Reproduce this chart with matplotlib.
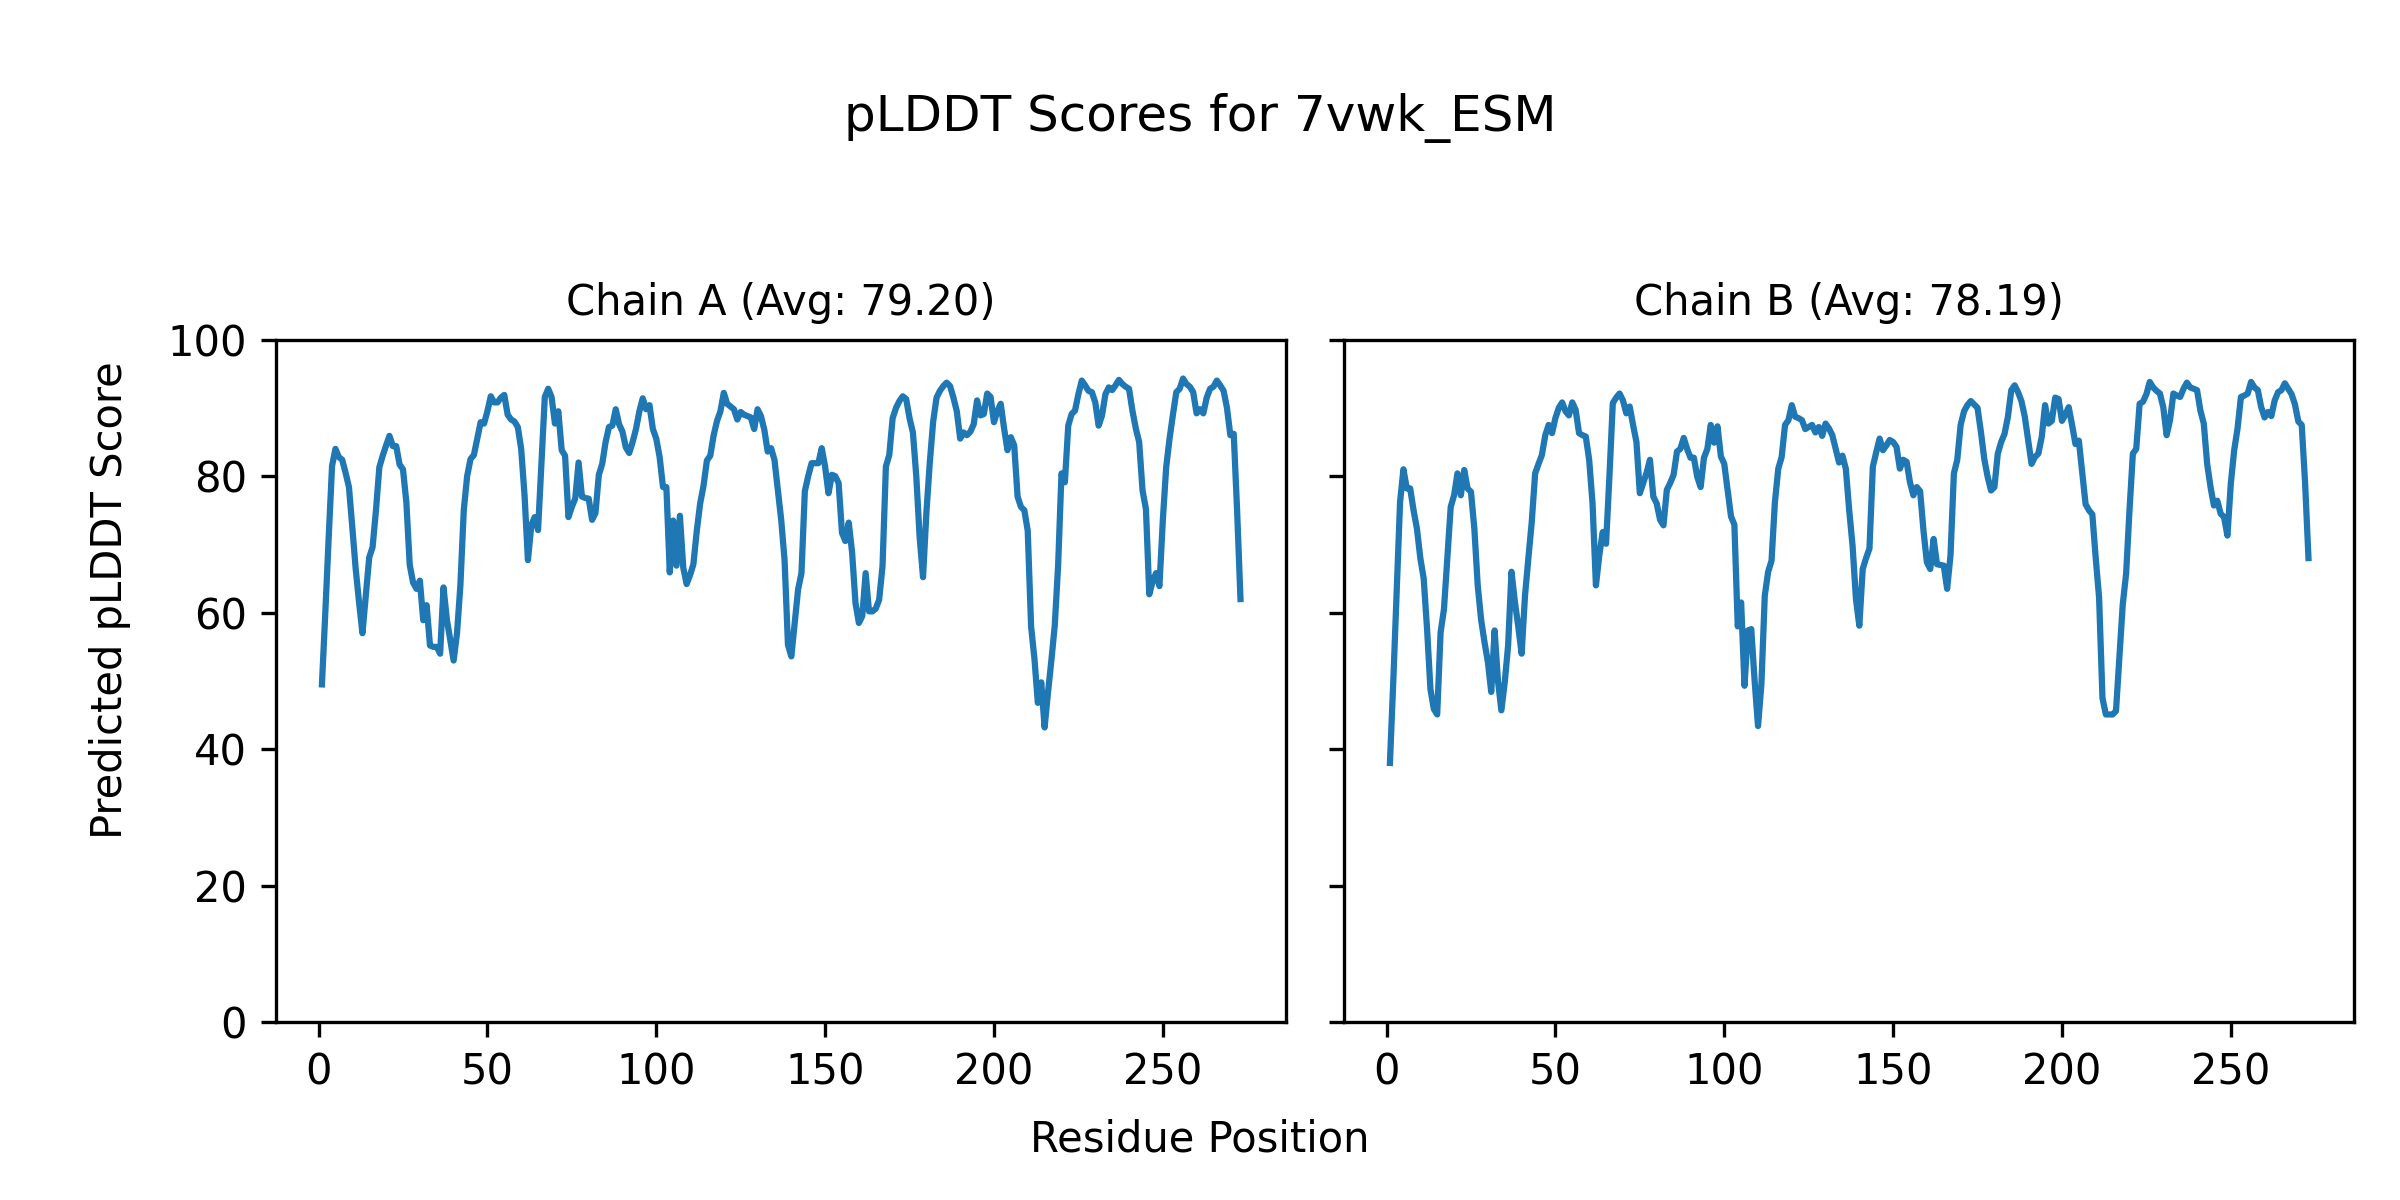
import matplotlib
matplotlib.use("Agg")
import matplotlib.pyplot as plt
import numpy as np

# Figure title / labels
structure_name = "7vwk_ESM"
chain_names = ["A", "B"]
chain_avgs = [79.20, 78.19]

# pLDDT per residue (residues 1..273)
plddt_a = [
	49.5, 60, 71, 81.5, 84, 82.8, 82.4, 80.5, 78.4, 72.5,
	66.4, 61.5, 57, 62.5, 68.1, 69.6, 75, 81.3, 83, 84.5,
	85.9, 84.4, 84.4, 81.7, 81, 76.2, 67, 64.4, 63.5, 64.7,
	58.9, 61.1, 55.2, 55, 55, 54, 63.7, 59, 56, 53,
	57, 64, 75, 80, 82.5, 83.1, 85.5, 87.9, 87.7, 89.5,
	91.7, 90.8, 90.8, 91.5, 91.9, 89, 88.3, 88, 87.2, 84,
	77.2, 67.7, 72.8, 74, 72.1, 82, 91.6, 92.8, 91.6, 87.7,
	89.5, 83.8, 83, 74, 75.5, 76.7, 82, 77, 76.8, 76.7,
	73.6, 74.6, 80.2, 81.8, 85, 87.2, 87.4, 89.8, 87.6, 86.5,
	84.2, 83.4, 85, 86.9, 89.5, 91.4, 89.8, 90.4, 86.9, 85.5,
	82.8, 78.4, 78.4, 65.9, 73.5, 66.9, 74.2, 66.6, 64.2, 65.5,
	67.1, 72, 76, 78.6, 82.3, 83, 86, 88.1, 89.5, 92.2,
	90.6, 90.2, 89.8, 88.3, 89.4, 89, 88.8, 88.6, 86.9, 89.8,
	88.8, 86.8, 83.6, 84.1, 82.4, 78, 73.6, 67.7, 55.3, 53.6,
	58.5, 63.4, 65.8, 77.8, 80, 81.9, 81.9, 81.9, 84.1, 81.4,
	77.5, 80.2, 80, 79, 71.7, 70.5, 73.2, 68.8, 61.4, 58.5,
	59.5, 65.8, 60.2, 60.2, 60.6, 61.9, 66.8, 81.4, 83.1, 88.5,
	90, 91, 91.7, 91.3, 88.5, 86.4, 80, 71, 65.2, 74.7,
	82, 88, 91.5, 92.5, 93.2, 93.7, 93.2, 91.5, 89.5, 85.5,
	86.4, 86, 86.5, 87.6, 91.1, 88.9, 89.1, 92.1, 91.6, 87.9,
	89.5, 90.6, 87, 83.8, 85.7, 84.5, 77, 75.5, 75, 72,
	58, 53.2, 46.8, 49.8, 43.2, 48.3, 53, 58.1, 66.9, 80.4,
	79.1, 87.4, 89.1, 89.6, 92, 94, 93.3, 92.5, 92.3, 90.8,
	87.4, 88.9, 92, 93, 92.6, 93.3, 94.1, 93.5, 93.1, 92.8,
	89.6, 87, 85, 77.9, 75.2, 62.7, 64.6, 65.8, 63.9, 73.5,
	81.3, 85.5, 89, 92.3, 92.8, 94.3, 93.5, 93.1, 92.3, 89.2,
	89.8, 89.2, 91.5, 92.8, 93.1, 94, 93.3, 92.5, 90, 86,
	86.2, 75, 62,
]

plddt_b = [
	38, 50, 63, 76.2, 81, 78.2, 78.2, 75, 72.3, 68,
	65, 57.6, 48.8, 45.9, 45.1, 57.1, 60.5, 68, 75.5, 77.2,
	80.4, 77.2, 80.9, 78.2, 77.7, 72.3, 64, 59, 55.7, 52.8,
	48.4, 57.4, 50, 45.7, 49.8, 55.2, 66, 61.6, 58, 54,
	62.5, 68, 73.3, 80.4, 81.8, 83.1, 86, 87.5, 86.3, 88.5,
	90, 90.8, 89.5, 88.9, 90.8, 89.7, 86.3, 86, 85.8, 82.4,
	76, 64, 68.4, 71.8, 70.1, 80, 90.7, 91.5, 92.1, 91.1,
	89.2, 90.2, 87.5, 85, 77.5, 79, 80.5, 82.4, 77, 76,
	73.6, 72.8, 78, 79, 80.2, 83.6, 84, 85.6, 84, 82.7,
	82.7, 79.9, 78.4, 82.7, 84, 87.5, 84.9, 87.3, 82.9, 81.8,
	78, 74.1, 72.9, 58, 61.5, 49.3, 57.4, 57.6, 50, 43.4,
	49.5, 62.5, 66, 67.6, 76.2, 81.1, 82.8, 87.5, 88.2, 90.4,
	88.7, 88.5, 88.2, 86.9, 87.2, 87.5, 86.4, 87.2, 85.9, 87.7,
	87, 86, 84, 82, 83, 81.1, 75, 69.8, 62, 58.1,
	66.4, 68, 69.4, 81.4, 83.5, 85.5, 83.8, 84.5, 85.3, 85,
	84.3, 81.1, 82.4, 82.1, 79.1, 77.2, 78.4, 77.8, 72, 67.4,
	66.4, 70.8, 67.1, 67, 66.9, 63.5, 68.4, 80.4, 82.4, 87.5,
	89.5, 90.4, 91, 90.5, 90, 86.5, 82.5, 79.9, 77.9, 78.4,
	83.3, 85, 86.2, 88.7, 92.6, 93.3, 92.3, 91, 88.7, 85.2,
	81.8, 82.8, 83.3, 85.7, 90.4, 87.7, 88.1, 91.5, 91.3, 88.1,
	89, 90.1, 87.5, 84.7, 85.2, 80.5, 75.9, 75, 74.4, 68,
	62.2, 47.5, 45.1, 45.1, 45.1, 45.6, 53.4, 61.2, 65.7, 75,
	83.3, 84, 90.6, 90.9, 92, 93.8, 93, 92.5, 92.1, 90.1,
	86, 88.2, 92.1, 91.8, 91.6, 92.8, 93.7, 93, 92.8, 92.6,
	89.6, 87.7, 81.8, 78.4, 75.7, 76.4, 74.5, 74, 71.3, 78.9,
	83.8, 87, 91.6, 91.8, 92.1, 93.8, 93, 92.6, 90.1, 88.6,
	89.4, 88.8, 91.1, 92.3, 92.6, 93.6, 92.8, 92, 90.5, 88,
	87.5, 79, 68,
]


def main():
	fig, axes = plt.subplots(1, 2, figsize=(8, 4), dpi=300, sharey=True)
	fig.subplots_adjust(left=0.115, right=0.981, bottom=0.148, top=0.717, wspace=0.057)

	for ax, name, avg, scores in zip(axes, chain_names, chain_avgs, [plddt_a, plddt_b]):
		positions = np.arange(1, len(scores) + 1)
		ax.plot(positions, scores, color="#1f77b4", linewidth=1.5)
		ax.set_title("Chain " + name + " (Avg: " + "{:.2f}".format(avg) + ")", fontsize=10)
		ax.set_ylim(0, 100)

	# Shared labels, centred on the whole figure
	fig.suptitle("pLDDT Scores for " + structure_name, fontsize=12, y=0.902, va="center")
	fig.supxlabel("Residue Position", fontsize=10, y=0.050, va="center")
	fig.supylabel("Predicted pLDDT Score", fontsize=10, x=0.046, ha="center", va="center")

	fig.savefig("out.png", dpi=300)


if __name__ == "__main__":
	main()
